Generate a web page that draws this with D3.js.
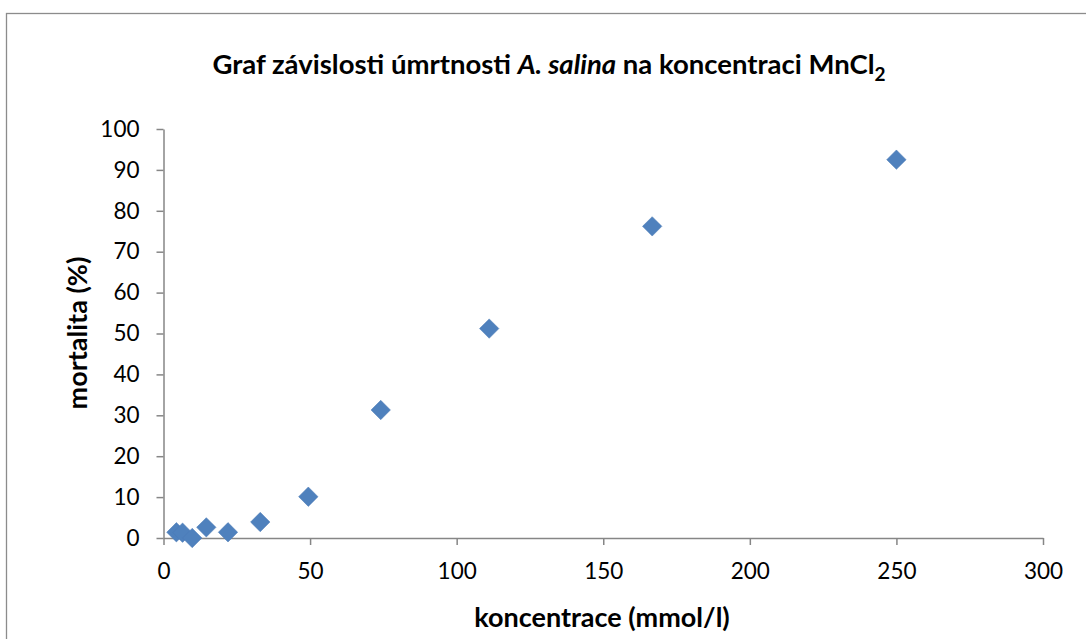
<!DOCTYPE html>
<html>
<head>
<meta charset="utf-8">
<script src="https://cdn.jsdelivr.net/npm/d3@7"></script>
<style>
  body { margin: 0; background: #fff; }
  text { font-family: Lato, "Open Sans", sans-serif; }
</style>
</head>
<body>
<script>
// data
var koncentrace = [4.4, 6.5, 9.8, 14.6, 22, 33, 49.4, 74.1, 111.1, 166.7, 250];
var mortalita = [1.4, 1.3, 0, 2.6, 1.4, 3.9, 10.1, 31.3, 51.2, 76.2, 92.5];
var xTicks = [0, 50, 100, 150, 200, 250, 300];
var yTicks = [0, 10, 20, 30, 40, 50, 60, 70, 80, 90, 100];

var svgWidth = 1086;
var svgHeight = 639;
var margin = {top: 129, right: 43, bottom: 101, left: 163.5};
var width = svgWidth - margin.left - margin.right;
var height = svgHeight - margin.top - margin.bottom;

var svg = d3.select("body")
  .append("svg")
  .attr("width", svgWidth)
  .attr("height", svgHeight);

// outer frame (only left and top edges fall inside the picture)
svg.append("rect")
  .attr("x", 6.5)
  .attr("y", 13.5)
  .attr("width", svgWidth)
  .attr("height", svgHeight)
  .attr("fill", "none")
  .attr("stroke", "#8c8c8c")
  .attr("stroke-width", 1.3);

var chart = svg.append("g")
  .attr("transform", `translate(${margin.left}, ${margin.top})`);

var xScale = d3.scaleLinear().domain([0, 300]).range([0, width]);
var yScale = d3.scaleLinear().domain([0, 100]).range([height, 0]);

var xAxis = d3.axisBottom(xScale).tickValues(xTicks).tickSize(7).tickPadding(18).tickSizeOuter(0);
var yAxis = d3.axisLeft(yScale).tickValues(yTicks).tickSize(7).tickPadding(17).tickSizeOuter(0);

var gx = chart.append("g")
  .attr("transform", `translate(0, ${height})`)
  .call(xAxis);

var gy = chart.append("g")
  .call(yAxis);

[gx, gy].forEach(function(g) {
  g.selectAll("path, line").attr("stroke", "#868686").attr("stroke-width", 1.5);
  g.selectAll("text").attr("fill", "#000").style("font-size", "22.5px")
    .style("font-family", "Lato, 'Open Sans', sans-serif");
});

chart.selectAll(".pt")
  .data(koncentrace)
  .enter()
  .append("path")
  .attr("class", "pt")
  .attr("d", d3.symbol().type(d3.symbolSquare).size(188))
  .attr("transform", function(d, i) {
    return `translate(${xScale(d)}, ${yScale(mortalita[i])}) rotate(45)`;
  })
  .attr("fill", "#4f81bd")
  .attr("stroke", "#4a7ab5")
  .attr("stroke-width", 0.5);

// title
var title = svg.append("text")
  .attr("x", 549)
  .attr("y", 74)
  .attr("text-anchor", "middle")
  .style("font-size", "27.5px")
  .style("font-weight", "bold");
title.append("tspan").text("Graf závislosti úmrtnosti ");
title.append("tspan").style("font-style", "italic").text("A. salina");
title.append("tspan").text(" na koncentraci MnCl");
title.append("tspan").attr("dy", 7).style("font-size", "19px").text("2");

svg.append("text")
  .attr("x", 602)
  .attr("y", 627)
  .attr("text-anchor", "middle")
  .style("font-size", "27px")
  .style("font-weight", "bold")
  .text("koncentrace (mmol/l)");

svg.append("text")
  .attr("transform", "translate(87, 333) rotate(-90)")
  .attr("text-anchor", "middle")
  .style("font-size", "27px")
  .style("font-weight", "bold")
  .text("mortalita (%)");
</script>
</body>
</html>
